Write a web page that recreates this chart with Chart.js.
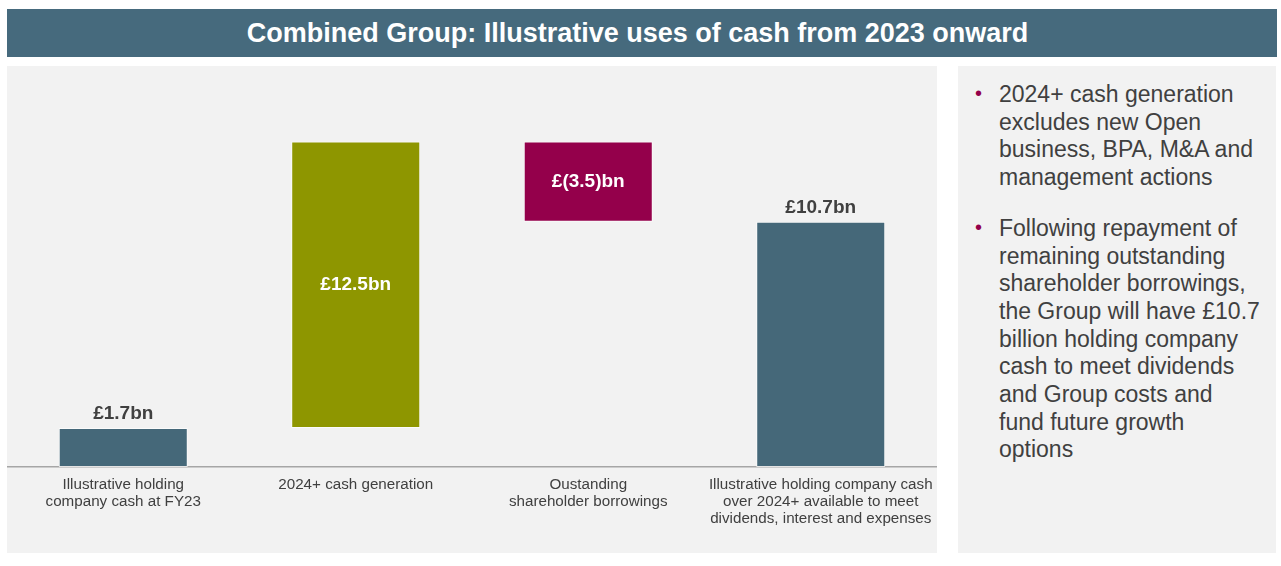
<!DOCTYPE html>
<html>
<head>
<meta charset="utf-8">
<script src="https://cdn.jsdelivr.net/npm/chart.js@4.4.1/dist/chart.umd.min.js"></script>
<style>
  body { margin: 0; background: #ffffff; font-family: "Liberation Sans", Arial, sans-serif; }
  #page { position: relative; width: 1281px; height: 566px; overflow: hidden; }
  #title {
    position: absolute; left: 7px; top: 9px; width: 1270px; height: 48px; box-sizing: border-box; padding-right: 9px;
    background: #466a7d; color: #ffffff; font-weight: bold; font-size: 27px;
    line-height: 48px; text-align: center;
  }
  #chartBox { position: absolute; left: 7px; top: 66px; width: 930px; height: 487px; background: #f2f2f2; }
  #notes {
    position: absolute; left: 958px; top: 66px; width: 318px; height: 487px; background: #f2f2f2;
    color: #404040; font-size: 23px; line-height: 27.7px; box-sizing: border-box; padding: 15px 0 0 41px;
    white-space: nowrap;
  }
  #notes p { margin: 0 0 23px 0; position: relative; }
  #notes p::before { content: "\2022"; color: #94004b; position: absolute; left: -24px; top: -1px; font-size: 20px; }
</style>
</head>
<body>
<div id="page">
  <div id="title">Combined Group: Illustrative uses of cash from 2023 onward</div>
  <div id="chartBox"><canvas id="cashChart"></canvas></div>
  <div id="notes">
    <p>2024+ cash generation<br>excludes new Open<br>business, BPA, M&amp;A and<br>management actions</p>
    <p>Following repayment of<br>remaining outstanding<br>shareholder borrowings,<br>the Group will have £10.7<br>billion holding company<br>cash to meet dividends<br>and Group costs and<br>fund future growth<br>options</p>
  </div>
</div>
<script>
// Waterfall: each bar is a floating [low, high] range in £bn
const categories = [
    ['Illustrative holding', 'company cash at FY23'],
    ['2024+ cash generation'],
    ['Oustanding', 'shareholder borrowings'],
    ['Illustrative holding company cash', 'over 2024+ available to meet', 'dividends, interest and expenses']
];
const barLow  = [0, 1.7, 10.7, 0];
const barHigh = [1.7, 14.2, 14.2, 10.7];
const barLabels = ['£1.7bn', '£12.5bn', '£(3.5)bn', '£10.7bn'];
const labelInside = [false, true, true, false];
const barColors = ['#456879', '#8e9600', '#94004b', '#456879'];

// draws the value text above or inside each bar
const valueLabels = {
    id: 'valueLabels',
    afterDatasetsDraw(chart) {
        const ctx = chart.ctx;
        const meta = chart.getDatasetMeta(0);
        ctx.save();
        ctx.font = 'bold 19px "Liberation Sans", Arial, sans-serif';
        ctx.textAlign = 'center';
        ctx.textBaseline = 'middle';
        meta.data.forEach(function(bar, i) {
            if (labelInside[i]) {
                ctx.fillStyle = '#ffffff';
                ctx.fillText(barLabels[i], bar.x, (bar.y + bar.base) / 2);
            } else {
                ctx.fillStyle = '#404040';
                ctx.fillText(barLabels[i], bar.x, bar.y - 14);
            }
        });
        ctx.restore();
    }
};

const ctxCash = document.getElementById('cashChart').getContext('2d');
const cashChart = new Chart(ctxCash, {
    type: 'bar',
    data: {
        labels: categories,
        datasets: [{
            data: barLow.map(function(v, i) { return [v, barHigh[i]]; }),
            backgroundColor: barColors,
            borderColor: 'rgba(255,255,255,0.7)',
            borderWidth: 1,
            borderSkipped: false,
            categoryPercentage: 1.0,
            barPercentage: 0.555
        }]
    },
    options: {
        responsive: true,
        maintainAspectRatio: false,
        animation: false,
        layout: { padding: { top: 0, bottom: 17, left: 0, right: 0 } },
        scales: {
            x: {
                grid: { display: false, drawTicks: false },
                border: { display: true, color: '#a6a6a6', width: 1.5 },
                ticks: {
                    color: '#404040',
                    padding: 9,
                    maxRotation: 0,
                    autoSkip: false,
                    font: { family: '"Liberation Sans", Arial, sans-serif', size: 15.2, lineHeight: 1.12 }
                },
                // keep the axis running the full panel width
                afterFit: function(scale) {
                    scale.paddingLeft = 0;
                    scale.paddingRight = 0;
                }
            },
            y: {
                display: false,
                min: 0,
                max: 17.5
            }
        },
        plugins: {
            legend: { display: false },
            tooltip: { enabled: false }
        }
    },
    plugins: [valueLabels]
});
</script>
</body>
</html>
